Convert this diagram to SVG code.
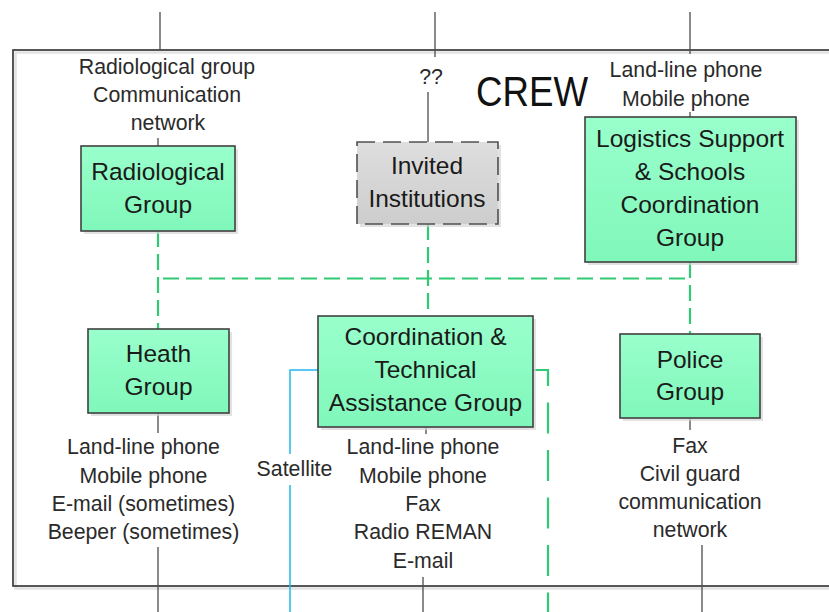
<svg xmlns="http://www.w3.org/2000/svg" width="829" height="612" viewBox="0 0 829 612">
<defs>
<linearGradient id="gGreen" x1="0" y1="0" x2="0" y2="1">
<stop offset="0" stop-color="#99ffcc"/>
<stop offset="1" stop-color="#80f7ba"/>
</linearGradient>
<linearGradient id="gGray" x1="0" y1="0" x2="0" y2="1">
<stop offset="0" stop-color="#dedede"/>
<stop offset="1" stop-color="#cdcdcd"/>
</linearGradient>
<style>
.box{fill:url(#gGreen);stroke:#404040;stroke-width:1.6}
.shadow{fill:#d6d6d6;opacity:0.7}
.gbox{fill:url(#gGray);stroke:#505050;stroke-width:1.6;stroke-dasharray:18 8}
.big{font-family:"Liberation Sans",Arial,sans-serif;font-size:24.5px;fill:#1a1a1a;text-anchor:middle}
.lbl{font-family:"Liberation Sans",Arial,sans-serif;font-size:21.3px;fill:#2a2a2a;text-anchor:middle}
.wire{stroke:#4d4d4d;stroke-width:1.3;fill:none}
.gd{stroke:#2fca73;stroke-width:2.2;fill:none;stroke-dasharray:16 7}
.gl{stroke:#2fca73;stroke-width:2.2;fill:none;stroke-dasharray:31 16.5}
.blue{stroke:#22b8f0;stroke-width:1.5;fill:none}
</style>
</defs>
<rect width="829" height="612" fill="#ffffff"/>
<g id="frame">
<rect x="15.5" y="52.5" width="830" height="536" fill="none" stroke="#e2e2e2" stroke-width="2.5"/>
<rect x="13" y="50" width="830" height="536" fill="none" stroke="#454545" stroke-width="1.8"/>
<text x="532" y="106" font-family="'Liberation Sans',Arial,sans-serif" font-size="43" fill="#111" text-anchor="middle" textLength="112" lengthAdjust="spacingAndGlyphs">CREW</text>
</g>
<g id="connectors">
<path class="wire" d="M160,12 V50 M158,138 V146 M435,12 V57 M428,92 V142 M690,12 V54 M690,112 V117 M158,413 V433 M158,547 V612 M426,427 V434 M423,577 V612 M690,418 V430 M702,545 V612"/>
<path class="gd" d="M158,231 V329"/>
<path class="gd" d="M163,278.5 H690"/>
<path class="gd" d="M428,224 V316"/>
<path class="gd" d="M690,262 V334"/>
<path class="gl" d="M533,370 H548 V612"/>
<path class="blue" d="M318,370 H290 V454 M290,485 V612"/>
</g>
<g id="radiological">
<rect class="shadow" x="84" y="149" width="154" height="85"/>
<rect class="box" x="81" y="146" width="154" height="85"/>
<text class="big" x="158" y="180">Radiological</text>
<text class="big" x="158" y="213">Group</text>
</g>
<g id="radiological-label">
<text class="lbl" x="167" y="74">Radiological group</text>
<text class="lbl" x="167" y="102">Communication</text>
<text class="lbl" x="168" y="130">network</text>
</g>
<g id="invited">
<rect class="shadow" x="360" y="145" width="141" height="82"/>
<rect class="gbox" x="357" y="142" width="141" height="82"/>
<text class="big" x="427" y="174">Invited</text>
<text class="big" x="427" y="207">Institutions</text>
<text class="lbl" x="431" y="84">??</text>
</g>
<g id="logistics">
<rect class="shadow" x="588" y="120" width="211" height="145"/>
<rect class="box" x="585" y="117" width="211" height="145"/>
<text class="big" x="690" y="147">Logistics Support</text>
<text class="big" x="690" y="180">&amp; Schools</text>
<text class="big" x="690" y="213">Coordination</text>
<text class="big" x="690" y="246">Group</text>
<text class="lbl" x="686" y="77">Land-line phone</text>
<text class="lbl" x="686" y="106">Mobile phone</text>
</g>
<g id="heath">
<rect class="shadow" x="91" y="332" width="141" height="84"/>
<rect class="box" x="88" y="329" width="141" height="84"/>
<text class="big" x="158.5" y="362">Heath</text>
<text class="big" x="158.5" y="395">Group</text>
<text class="lbl" x="143.5" y="454">Land-line phone</text>
<text class="lbl" x="143.5" y="482.5">Mobile phone</text>
<text class="lbl" x="143.5" y="511">E-mail (sometimes)</text>
<text class="lbl" x="143.5" y="539">Beeper (sometimes)</text>
</g>
<g id="coordination">
<rect class="shadow" x="321" y="319" width="215" height="111"/>
<rect class="box" x="318" y="316" width="215" height="111"/>
<text class="big" x="425.5" y="345">Coordination &amp;</text>
<text class="big" x="425.5" y="378">Technical</text>
<text class="big" x="425.5" y="411">Assistance Group</text>
<text class="lbl" x="423" y="454">Land-line phone</text>
<text class="lbl" x="423" y="482.5">Mobile phone</text>
<text class="lbl" x="423" y="511">Fax</text>
<text class="lbl" x="423" y="539">Radio REMAN</text>
<text class="lbl" x="423" y="567.5">E-mail</text>
<text class="lbl" x="294.5" y="476">Satellite</text>
</g>
<g id="police">
<rect class="shadow" x="623" y="337" width="140" height="84"/>
<rect class="box" x="620" y="334" width="140" height="84"/>
<text class="big" x="690" y="368">Police</text>
<text class="big" x="690" y="400">Group</text>
<text class="lbl" x="690" y="452.5">Fax</text>
<text class="lbl" x="690" y="481">Civil guard</text>
<text class="lbl" x="690" y="509">communication</text>
<text class="lbl" x="690" y="537">network</text>
</g>
</svg>
